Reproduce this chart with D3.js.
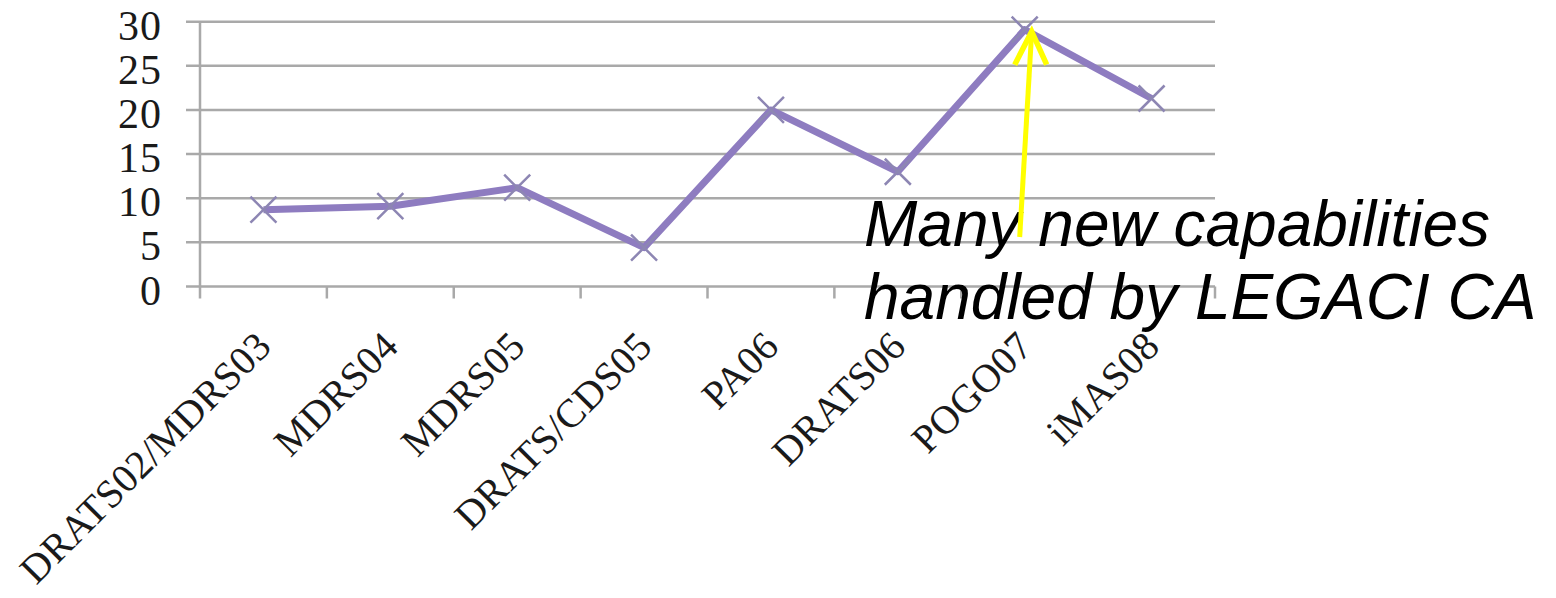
<!DOCTYPE html>
<html>
<head>
<meta charset="utf-8">
<script src="https://cdn.jsdelivr.net/npm/d3@7/dist/d3.min.js"></script>
<style>
  html, body { margin: 0; padding: 0; background: #ffffff; }
  svg { display: block; }
</style>
</head>
<body>
<svg id="chart" width="1556" height="598"></svg>
<script>
// Field tests and the number of capabilities handled in each
const categories = ["DRATS02/MDRS03", "MDRS04", "MDRS05", "DRATS/CDS05", "PA06", "DRATS06", "POGO07", "iMAS08"];
const values = [8.7, 9.1, 11.2, 4.4, 20.0, 13.0, 29.1, 21.3];
const yTicks = [0, 5, 10, 15, 20, 25, 30];
const noteLines = ["Many new capabilities", "handled by LEGACI CA"];
const noteTarget = "POGO07";

const svg = d3.select("#chart");

const plot = { left: 200, right: 1215, top: 21.7, bottom: 286.5 };

const x = d3.scaleBand()
  .domain(categories)
  .range([plot.left, plot.right])
  .padding(0);

const y = d3.scaleLinear()
  .domain([0, 30])
  .range([plot.bottom, plot.top]);

const serif = "'Liberation Serif', 'DejaVu Serif', serif";

// Horizontal gridlines with short outside ticks
svg.append("g")
  .selectAll("line")
  .data(yTicks)
  .join("line")
  .attr("x1", plot.left - 14)
  .attr("x2", plot.right)
  .attr("y1", d => y(d))
  .attr("y2", d => y(d))
  .attr("stroke", "#a9a9a9")
  .attr("stroke-width", 2.5);

// Vertical axis line
svg.append("line")
  .attr("x1", plot.left).attr("x2", plot.left)
  .attr("y1", y(30)).attr("y2", y(0) + 12)
  .attr("stroke", "#a9a9a9")
  .attr("stroke-width", 2.5);

// Category boundary ticks below the baseline
const boundaries = categories.map(c => x(c)).concat([plot.right]);
svg.append("g")
  .selectAll("line")
  .data(boundaries.slice(1))
  .join("line")
  .attr("x1", d => d).attr("x2", d => d)
  .attr("y1", y(0)).attr("y2", y(0) + 12)
  .attr("stroke", "#a9a9a9")
  .attr("stroke-width", 2.5);

// Y tick labels
svg.append("g")
  .selectAll("text")
  .data(yTicks)
  .join("text")
  .attr("x", 162)
  .attr("y", d => y(d) + 18)
  .attr("text-anchor", "end")
  .attr("font-family", serif)
  .attr("font-size", 42)
  .attr("letter-spacing", 1)
  .attr("fill", "#1a1a1a")
  .text(d => d);

// Rotated category labels
svg.append("g")
  .selectAll("text")
  .data(categories)
  .join("text")
  .attr("transform", d => `translate(${x(d) + x.bandwidth() / 2 + 10},${y(0) + 62}) rotate(-45)`)
  .attr("text-anchor", "end")
  .attr("font-family", serif)
  .attr("font-size", 40)
  .attr("letter-spacing", 0.3)
  .attr("fill", "#1a1a1a")
  .text(d => d);

const cx = d => x(d) + x.bandwidth() / 2;
const pts = categories.map((c, i) => ({ c, v: values[i] }));

// Series line
svg.append("path")
  .datum(pts)
  .attr("fill", "none")
  .attr("stroke", "#8e7cc0")
  .attr("stroke-width", 7)
  .attr("stroke-linejoin", "round")
  .attr("d", d3.line().x(d => cx(d.c)).y(d => y(d.v)));

// X-shaped markers
const s = 13;
svg.append("g")
  .selectAll("path")
  .data(pts)
  .join("path")
  .attr("d", d => {
    const px = cx(d.c), py = y(d.v);
    return `M${px - s},${py - s}L${px + s},${py + s}M${px - s},${py + s}L${px + s},${py - s}`;
  })
  .attr("stroke", "#8d86b3")
  .attr("stroke-width", 2.5)
  .attr("fill", "none");

// Annotation text
const note = svg.append("text")
  .attr("font-family", "'Liberation Sans', Arial, sans-serif")
  .attr("font-style", "italic")
  .attr("font-size", 64)
  .attr("fill", "#000000");
noteLines.forEach((t, i) => {
  note.append("tspan")
    .attr("x", 864)
    .attr("y", 246 + i * 73)
    .text(t);
});

// Yellow arrow pointing at the highlighted field test
const tipX = cx(noteTarget) + 7;
const tipY = y(values[categories.indexOf(noteTarget)]) + 2;
const tailX = tipX - 12, tailY = 237;
svg.append("line")
  .attr("x1", tailX).attr("y1", tailY)
  .attr("x2", tipX).attr("y2", tipY)
  .attr("stroke", "#ffff00")
  .attr("stroke-width", 5);
svg.append("path")
  .attr("d", `M${tipX - 17},${tipY + 33}L${tipX},${tipY}L${tipX + 15},${tipY + 33}`)
  .attr("stroke", "#ffff00")
  .attr("stroke-width", 5.5)
  .attr("stroke-linejoin", "miter")
  .attr("fill", "none");
</script>
</body>
</html>
